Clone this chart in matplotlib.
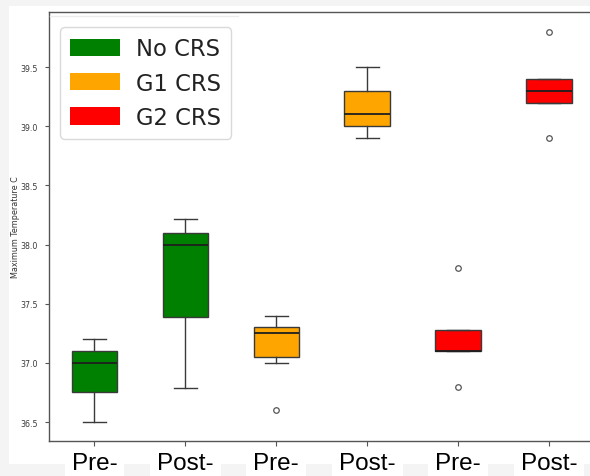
import matplotlib
matplotlib.use("Agg")
import matplotlib.pyplot as plt
from matplotlib.patches import Patch, Rectangle
from matplotlib.lines import Line2D

# Box statistics per group (deg C)
labels = ["Pre-", "Post-", "Pre-", "Post-", "Pre-", "Post-"]
groups = ["No CRS", "No CRS", "G1 CRS", "G1 CRS", "G2 CRS", "G2 CRS"]
whislo = [36.5, 36.79, 37.0, 38.9, 37.1, 39.2]
q1 = [36.75, 37.39, 37.05, 39.0, 37.1, 39.2]
med = [37.0, 38.0, 37.25, 39.1, 37.1, 39.3]
q3 = [37.1, 38.10, 37.3, 39.3, 37.28, 39.4]
whishi = [37.2, 38.22, 37.4, 39.5, 37.28, 39.4]
fliers = [[], [], [36.6], [], [37.8, 36.8], [39.8, 38.9]]

legend_names = ["No CRS", "G1 CRS", "G2 CRS"]
legend_colors = ["#008000", "#FFA500", "#FF0000"]
color_of = dict(zip(legend_names, legend_colors))

W, H = 590, 477
fig = plt.figure(figsize=(W / 100, H / 100), dpi=100, facecolor="#f4f4f4")

# white canvas area
fig.patches.append(Rectangle((9 / W, 12 / H), 1 - 9 / W, (H - 7 - 12) / H,
                             transform=fig.transFigure, facecolor="white",
                             edgecolor="none", zorder=-10))
fig.lines.append(Line2D([50 / W, 238 / W], [1 - 17 / H, 1 - 17 / H],
                        transform=fig.transFigure, color="#ececec", lw=1))

ax_w, ax_h = 594.5 - 49, 442 - 13
ax = fig.add_axes([49 / W, 35 / H, ax_w / W, ax_h / H])
ax.set_facecolor("none")

stats = []
for i in range(len(labels)):
    stats.append(dict(whislo=whislo[i], q1=q1[i], med=med[i], q3=q3[i],
                      whishi=whishi[i], fliers=fliers[i], label=labels[i]))

edge = "#3a3a3a"
bp = ax.bxp(stats, positions=range(1, len(labels) + 1), widths=0.5,
            patch_artist=True,
            boxprops=dict(edgecolor=edge, linewidth=1.0),
            medianprops=dict(color="#1e1e1e", linewidth=1.3),
            whiskerprops=dict(color=edge, linewidth=1.0),
            capprops=dict(color=edge, linewidth=1.0),
            flierprops=dict(marker="o", markersize=4, markerfacecolor="none",
                            markeredgecolor="#555555", markeredgewidth=0.9))
for box, g in zip(bp["boxes"], groups):
    box.set_facecolor(color_of[g])

ax.set_xlim(0.5, 6.5)
ax.set_ylim(36.34, 39.965)
yt = [36.5, 37.0, 37.5, 38.0, 38.5, 39.0, 39.5]
ax.set_yticks(yt)
ax.set_yticklabels([f"{v:.1f}" for v in yt])
ax.tick_params(axis="y", labelsize=5.7, labelcolor="#3a3a3a", color="#555555",
               length=3, width=0.8, pad=5)
ax.tick_params(axis="x", labelsize=17.5, labelcolor="black", color="#555555",
               length=3.5, width=0.8, pad=4.5)
for lab in ax.get_xticklabels():
    lab.set_family("Liberation Sans")
ax.set_ylabel("Maximum Temperature C", fontsize=5.75, color="#333333")
ax.yaxis.set_label_coords(-29 / ax_w, 0.5)

for side in ["left", "bottom", "top", "right"]:
    ax.spines[side].set_color("#555555")
    ax.spines[side].set_linewidth(1.0)

handles = [Patch(facecolor=c, edgecolor="none") for c in legend_colors]
leg = ax.legend(handles, legend_names, loc="upper left",
                bbox_to_anchor=(11 / ax_w, 1 - 15 / ax_h), borderaxespad=0,
                fontsize=16.3, handlelength=2.2, handleheight=0.8,
                handletextpad=0.7, labelspacing=0.5, borderpad=0.45,
                fancybox=True, framealpha=0.8, edgecolor="#d0d0d0")
for t in leg.get_texts():
    t.set_color("#222222")

# white strips beneath the category labels at the bottom edge
fig.canvas.draw()
for lab in ax.get_xticklabels():
    bb = lab.get_window_extent()
    x0 = bb.x0 - 7
    fig.patches.append(Rectangle((x0 / W, 0), (bb.width + 14) / W, 13 / H,
                                 transform=fig.transFigure, facecolor="white",
                                 edgecolor="none", zorder=-9))

fig.savefig("out.png", dpi=100, facecolor=fig.get_facecolor())
